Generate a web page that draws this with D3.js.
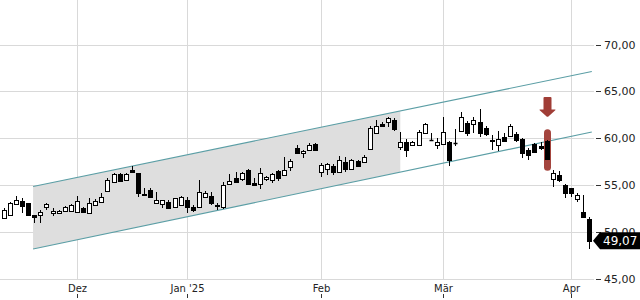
<!DOCTYPE html>
<html><head><meta charset="utf-8">
<script src="https://cdn.jsdelivr.net/npm/d3@7"></script>
<style>html,body{margin:0;padding:0;background:#fff;}svg{display:block;}</style>
</head><body>
<svg id="c" width="640" height="300"></svg>
<script>
// Trading days per month
const tradingDays = [
  ["2024-11", [14,15,18,19,20,21,22,25,26,27,28,29]],
  ["2024-12", [2,3,4,5,6,9,10,11,12,13,16,17,18,19,20,23,27,30]],
  ["2025-01", [2,3,6,7,8,9,10,13,14,15,16,17,20,21,22,23,24,27,28,29,30,31]],
  ["2025-02", [3,4,5,6,7,10,11,12,13,14,17,18,19,20,21,24,25,26,27,28]],
  ["2025-03", [3,4,5,6,7,10,11,12,13,14,17,18,19,20,21,24,25,26,27,28,31]],
  ["2025-04", [1,2,3,4]]
];
const open = [51.47,51.82,53.00,53.32,53.07,51.82,51.82,52.71,52.00,52.07,52.28,52.25,52.17,52.54,52.00,52.89,53.18,54.41,55.37,56.19,
55.55,56.62,56.27,54.03,54.49,53.07,52.96,53.24,52.64,52.89,53.42,52.71,52.71,53.77,53.85,52.89,52.71,55.10,55.74,55.66,
56.62,55.20,55.10,55.63,55.55,56.55,56.09,56.97,58.93,58.46,58.75,59.39,56.44,56.70,57.05,56.38,57.51,56.70,57.58,57.44,
58.83,60.53,61.52,61.77,61.95,59.10,59.64,59.32,59.29,60.60,59.82,59.29,59.36,59.64,59.55,60.81,61.60,61.49,61.77,61.07,
59.78,59.29,60.11,60.28,60.46,59.96,58.75,59.36,59.18,59.70,55.63,56.09,55.02,54.67,53.53,52.11,51.40];
const high = [52.60,53.24,53.85,53.60,53.10,51.85,52.36,53.13,52.54,52.36,52.78,52.95,53.85,52.71,53.60,53.50,54.14,55.74,56.30,56.25,
56.30,57.05,56.35,54.67,54.67,54.31,53.45,53.42,53.65,53.80,53.77,52.89,55.55,54.38,54.31,53.07,55.37,56.16,56.44,56.44,
56.70,55.74,56.80,56.01,56.33,56.62,58.04,57.76,59.29,58.70,59.47,59.45,57.33,57.33,57.23,58.11,58.04,57.75,57.69,58.22,
61.31,61.95,61.77,62.24,62.13,60.70,59.89,59.71,60.88,61.60,60.60,60.00,62.30,59.74,60.96,62.84,61.88,62.24,63.09,61.30,
60.35,60.81,60.60,61.49,60.70,60.06,58.93,59.47,59.64,59.80,56.62,56.51,55.10,54.73,54.20,53.96,51.58];
const low = [51.36,51.75,52.95,52.07,51.78,50.94,50.94,52.36,51.72,52.04,52.25,52.20,52.15,52.00,51.98,52.80,53.15,54.31,55.34,55.40,
55.50,56.35,53.77,53.85,53.75,53.05,52.60,52.46,52.60,52.85,52.00,52.17,52.68,53.60,52.89,52.36,52.46,55.05,55.35,55.48,
55.00,54.98,54.56,55.48,55.27,55.48,56.05,56.55,58.29,57.87,58.68,58.70,55.91,56.09,56.09,56.35,56.44,56.65,56.91,57.33,
58.80,60.46,61.24,61.24,60.81,58.75,57.97,59.18,59.25,60.55,59.74,58.83,59.33,57.08,59.18,60.78,60.25,60.53,60.17,60.20,
58.75,58.65,59.64,60.17,59.64,57.87,57.69,58.40,58.75,57.75,54.78,55.37,53.60,53.71,53.24,51.47,48.20];
const close = [52.36,53.07,53.42,52.81,51.82,51.64,52.17,52.96,52.25,52.28,52.64,52.89,53.32,52.11,53.07,53.35,53.77,55.55,56.19,55.48,
56.19,56.38,54.14,53.96,53.77,53.42,53.42,52.60,53.60,53.74,52.71,52.36,54.24,54.14,53.07,52.81,55.02,55.45,55.37,56.27,
55.10,55.02,56.27,55.91,56.16,55.74,56.62,57.58,58.40,58.68,59.29,58.75,57.15,57.23,56.44,57.69,56.70,57.69,57.05,57.97,
61.07,61.31,61.34,62.13,60.96,59.64,58.75,59.61,60.64,61.52,59.78,59.64,60.64,57.69,59.50,62.24,60.53,61.95,60.60,60.43,
59.72,59.89,59.74,61.31,59.82,58.40,58.22,58.51,58.93,57.83,56.33,55.55,54.14,54.14,53.96,51.58,49.07];

const yTicks = [45, 50, 55, 60, 65, 70];
const monthLabels = ["Dez", "Jan '25", "Feb", "Mär", "Apr"];
const monthKeys = ["2024-12", "2025-01", "2025-02", "2025-03", "2025-04"];
// Trend channel: [index, price] endpoints
const channelUpper = [[4.8, 54.86], [96.4, 67.12]];
const channelLower = [[4.8, 48.20], [96.4, 60.67]];
const shadeEndIndex = 65;
// Signal annotation
const signalIndex = 89;
const signalArrow = [64.4, 62.27];      // price range of arrow (top, tip)
const signalHighlight = [60.96, 56.55]; // price range of highlight

const dates = tradingDays.flatMap(([m, ds]) => ds.map(d => m + "-" + String(d).padStart(2, "0")));
const data = dates.map((d, i) => ({i, date: d, o: open[i], h: high[i], l: low[i], c: close[i]}));

const W = 640, H = 300, plotR = 595, plotB = 280;
const x = d3.scaleLinear().domain([-0.623, 96.92]).range([0, plotR]);
const y = d3.scaleLinear().domain([45, 70]).range([279, 44.5]);

const svg = d3.select("#c");
const font = "DejaVu Sans, sans-serif";

// horizontal grid
svg.append("g").selectAll("line").data(yTicks).join("line")
  .attr("x1", 0).attr("x2", 594)
  .attr("y1", d => Math.round(y(d)) + 0.5).attr("y2", d => Math.round(y(d)) + 0.5)
  .attr("stroke", "#d9d9d9").attr("stroke-width", 1);

// vertical grid at first trading day of months
const monthIdx = monthKeys.map(m => dates.findIndex(d => d.startsWith(m)));
svg.append("g").selectAll("line").data(monthIdx).join("line")
  .attr("x1", d => Math.round(x(d)) + 0.5).attr("x2", d => Math.round(x(d)) + 0.5)
  .attr("y1", 0).attr("y2", plotB)
  .attr("stroke", "#d9d9d9").attr("stroke-width", 1);

// channel shading
const lineAt = (seg, t) => seg[0][1] + (seg[1][1] - seg[0][1]) * (t - seg[0][0]) / (seg[1][0] - seg[0][0]);
const s0 = channelUpper[0][0], s1 = shadeEndIndex;
svg.append("path")
  .attr("d", d3.line()([
    [x(s0), y(lineAt(channelUpper, s0))], [x(s1), y(lineAt(channelUpper, s1))],
    [x(s1), y(lineAt(channelLower, s1))], [x(s0), y(lineAt(channelLower, s0))]
  ]) + "Z")
  .attr("fill", "#dedede");

// channel lines
[channelUpper, channelLower].forEach(seg => {
  svg.append("line")
    .attr("x1", x(seg[0][0])).attr("y1", y(seg[0][1]))
    .attr("x2", x(seg[1][0])).attr("y2", y(seg[1][1]))
    .attr("stroke", "#5b9ea5").attr("stroke-width", 1.1);
});

// signal highlight
const sx = Math.round(x(signalIndex)) + 0.5;
svg.append("rect")
  .attr("x", sx - 3.5).attr("width", 7)
  .attr("y", y(signalHighlight[0])).attr("height", y(signalHighlight[1]) - y(signalHighlight[0]))
  .attr("rx", 3.5).attr("fill", "#a4453e");

// arrow
const aTop = y(signalArrow[0]), aTip = y(signalArrow[1]);
const headH = 7.5;
svg.append("path")
  .attr("d", `M${sx-4},${aTop+1} Q${sx-4},${aTop} ${sx-3},${aTop} L${sx+3},${aTop} Q${sx+4},${aTop} ${sx+4},${aTop+1}
    L${sx+4},${aTip-headH} L${sx+7.5},${aTip-headH} Q${sx+8.5},${aTip-headH} ${sx+7.8},${aTip-headH+0.8}
    L${sx+0.6},${aTip-0.3} Q${sx},${aTip} ${sx-0.6},${aTip-0.3}
    L${sx-7.8},${aTip-headH+0.8} Q${sx-8.5},${aTip-headH} ${sx-7.5},${aTip-headH} L${sx-4},${aTip-headH} Z`)
  .attr("fill", "#a03d36");

// candles
const g = svg.append("g");
data.forEach(d => {
  const cx = Math.round(x(d.i)) + 0.5;
  g.append("line").attr("x1", cx).attr("x2", cx)
    .attr("y1", Math.round(y(d.h))).attr("y2", Math.round(y(d.l)))
    .attr("stroke", "#000").attr("stroke-width", 1);
  const yt = Math.round(y(Math.max(d.o, d.c))) + 0.5;
  const yb = Math.round(y(Math.min(d.o, d.c))) + 0.5;
  const up = d.c >= d.o;
  if (yb - yt < 1) {
    g.append("line").attr("x1", cx - 2).attr("x2", cx + 2).attr("y1", yt).attr("y2", yt)
      .attr("stroke", "#000").attr("stroke-width", 1.5);
  } else {
    g.append("rect").attr("x", cx - 2).attr("width", 4)
      .attr("y", yt).attr("height", yb - yt)
      .attr("fill", up ? "#fff" : "#000").attr("stroke", "#000").attr("stroke-width", 1);
  }
});

// y axis (right)
const ya = svg.append("g");
yTicks.forEach(t => {
  const yy = Math.round(y(t)) + 0.5;
  ya.append("line").attr("x1", 596).attr("x2", 601).attr("y1", yy).attr("y2", yy)
    .attr("stroke", "#333").attr("stroke-width", 1);
  ya.append("text").attr("x", 604).attr("y", yy).attr("dy", "0.36em")
    .attr("font-family", font).attr("font-size", 11).attr("fill", "#222")
    .text(d3.format(".2f")(t).replace(".", ","));
});

// x axis labels
monthIdx.forEach((mi, k) => {
  const xx = Math.round(x(mi)) + 0.5;
  svg.append("text").attr("x", xx).attr("y", 292).attr("text-anchor", "middle")
    .attr("font-family", font).attr("font-size", 10).attr("fill", "#222")
    .text(monthLabels[k]);
  svg.append("line").attr("x1", xx).attr("x2", xx).attr("y1", 294).attr("y2", 298)
    .attr("stroke", "#333").attr("stroke-width", 1);
});

// last price label
const last = data[data.length - 1];
const ly = y(last.c);
svg.append("path")
  .attr("d", `M593,${ly} L600,${ly-8.5} L640,${ly-8.5} L640,${ly+8.5} L600,${ly+8.5} Z`)
  .attr("fill", "#000");
svg.append("text").attr("x", 603).attr("y", ly).attr("dy", "0.36em")
  .attr("font-family", font).attr("font-size", 12).attr("fill", "#fff")
  .text(d3.format(".2f")(last.c).replace(".", ","));
</script>
</body></html>
